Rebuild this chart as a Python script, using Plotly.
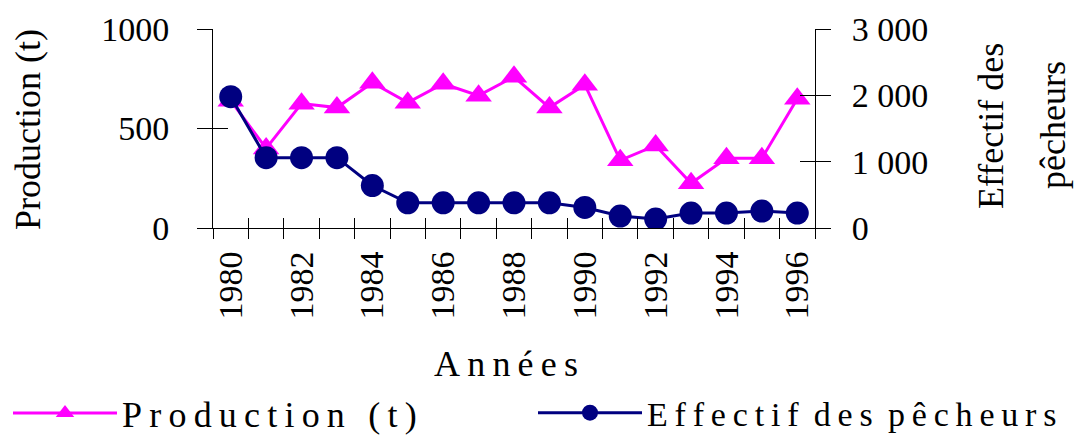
import plotly.graph_objects as go

years = ["1980", "1981", "1982", "1983", "1984", "1985", "1986", "1987", "1988",
         "1989", "1990", "1991", "1992", "1993", "1994", "1995", "1996"]
year_labels = ["1980", "", "1982", "", "1984", "", "1986", "", "1988",
               "", "1990", "", "1992", "", "1994", "", "1996"]
production = [640, 400, 625, 605, 730, 630, 725, 665, 760, 605, 720, 340, 415, 225, 350, 350, 650]
effectif = [1980, 1060, 1060, 1060, 640, 380, 380, 380, 380, 380, 310, 180, 135, 225, 225, 255, 225]
left_ticks = [0, 500, 1000]
right_ticks = [0, 1000, 2000, 3000]

FONT = "Liberation Serif, Times New Roman, serif"
MAGENTA = "#FF00FF"
NAVY = "#000080"
TS = "\u2009"
NB = "\u00a0"

def spaced(s):
    return TS.join(list(s))

def spaced_words(words):
    return (NB + TS).join(spaced(w) for w in words)

name_prod = spaced("Production") + NB + TS + TS + spaced("(t)")
name_eff = spaced_words(["Effectif", "des", "pêcheurs"])

fig = go.Figure()
fig.add_trace(go.Scatter(
    x=years, y=production, name=name_prod,
    mode="lines+markers", line=dict(color=MAGENTA, width=3),
    marker=dict(symbol="triangle-up", size=23, color=MAGENTA),
    xaxis="x", yaxis="y", legend="legend"))
fig.add_trace(go.Scatter(
    x=years, y=effectif, name=name_eff,
    mode="lines+markers", line=dict(color=NAVY, width=3),
    marker=dict(symbol="circle", size=23, color=NAVY),
    xaxis="x", yaxis="y2", legend="legend2"))
# invisible helper traces that carry the inward half of the crossing ticks
fig.add_trace(go.Scatter(x=years, y=production, mode="lines", opacity=0,
                         showlegend=False, hoverinfo="skip", xaxis="x2", yaxis="y3"))
fig.add_trace(go.Scatter(x=years, y=effectif, mode="lines", opacity=0,
                         showlegend=False, hoverinfo="skip", xaxis="x2", yaxis="y4"))

tickfont = dict(family=FONT, size=34, color="black")
common_x = dict(type="category", range=[-0.5, 16.5], tickmode="array", tickvals=years,
                tickson="boundaries", showgrid=False, zeroline=False, tickcolor="black",
                tickwidth=1, ticklen=10)
legend_common = dict(orientation="h", xanchor="left", y=-0.93, yanchor="middle",
                     bgcolor="rgba(0,0,0,0)", itemwidth=104)
fig.update_layout(
    width=1078, height=435, autosize=False,
    margin=dict(l=213, r=263, t=29, b=207, autoexpand=False),
    paper_bgcolor="white", plot_bgcolor="white",
    separators=". ",
    font=dict(family=FONT, color="black"),
    xaxis=dict(**common_x, ticktext=year_labels, ticks="outside", tickangle=-90,
               tickfont=tickfont, showline=True, linecolor="black", linewidth=1,
               ticklabelstandoff=9, domain=[0, 1], automargin=False),
    xaxis2=dict(**common_x, ticktext=[""] * len(years), ticks="inside", showticklabels=False,
                overlaying="x", anchor="y3", showline=False),
    yaxis=dict(range=[0, 1000], tickmode="array", tickvals=left_ticks, ticks="outside",
               ticklen=15, tickcolor="black", tickwidth=1, showline=True, linecolor="black",
               linewidth=1, showgrid=False, zeroline=False, tickfont=tickfont,
               ticklabelstandoff=21, automargin=False),
    yaxis2=dict(range=[0, 3000], tickmode="array", tickvals=right_ticks, overlaying="y",
                side="right", anchor="x", ticks="outside", ticklen=15, tickcolor="black",
                tickwidth=1, showline=True, linecolor="black", linewidth=1, showgrid=False,
                zeroline=False, tickfont=tickfont, separatethousands=True,
                ticklabelstandoff=14, automargin=False),
    yaxis3=dict(range=[0, 1000], tickmode="array", tickvals=left_ticks, overlaying="y",
                side="left", anchor="x2", ticks="inside", ticklen=15, tickcolor="black",
                tickwidth=1, showline=False, showgrid=False, zeroline=False,
                showticklabels=False),
    yaxis4=dict(range=[0, 3000], tickmode="array", tickvals=right_ticks, overlaying="y",
                side="right", anchor="x2", ticks="inside", ticklen=15, tickcolor="black",
                tickwidth=1, showline=False, showgrid=False, zeroline=False,
                showticklabels=False),
    legend=dict(**legend_common, x=(8 - 213) / 602,
                font=dict(family=FONT, size=36, color="black")),
    legend2=dict(**legend_common, x=(533 - 213) / 602,
                 font=dict(family=FONT, size=34, color="black")),
    showlegend=True,
)

title_font = dict(family=FONT, size=36, color="black")
fig.add_annotation(text="Production (t)", xref="paper", yref="paper",
                   x=(28 - 213) / 602, y=(228 - 130) / 199, xanchor="center", yanchor="middle",
                   textangle=-90, showarrow=False, font=title_font)
fig.add_annotation(text="Effectif des", xref="paper", yref="paper",
                   x=(991 - 213) / 602, y=(228 - 126) / 199, xanchor="center", yanchor="middle",
                   textangle=-90, showarrow=False, font=title_font)
fig.add_annotation(text="pêcheurs", xref="paper", yref="paper",
                   x=(1053 - 213) / 602, y=(228 - 125) / 199, xanchor="center", yanchor="middle",
                   textangle=-90, showarrow=False, font=title_font)
fig.add_annotation(text=spaced("Années"), xref="paper", yref="paper",
                   x=(506 - 213) / 602, y=(228 - 364) / 199, xanchor="center", yanchor="middle",
                   showarrow=False, font=title_font)

fig.write_html("out.html")
